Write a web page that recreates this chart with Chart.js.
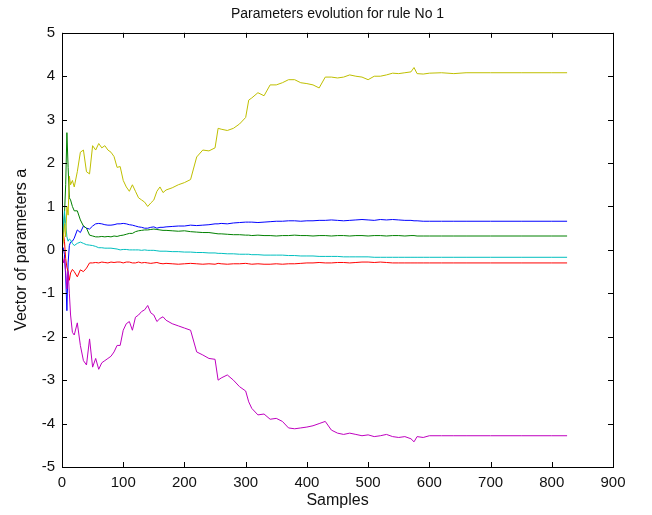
<!DOCTYPE html>
<html>
<head>
<meta charset="utf-8">
<script src="https://cdn.jsdelivr.net/npm/chart.js@4/dist/chart.umd.min.js"></script>
<style>
  html, body { margin: 0; padding: 0; background: #fff; }
  #wrap { width: 652px; height: 515px; }
</style>
</head>
<body>
<div id="wrap"><canvas id="param_chart_canvas" width="652" height="515"></canvas></div>
<script>
'use strict';

// sample index (x)
var samples = [
    0, 2, 4, 6, 8, 10, 12, 14, 17, 20,
    25, 30, 35, 40, 45, 50, 55, 60, 65, 70,
    75, 80, 85, 90, 95, 100, 105, 110, 115, 120,
    125, 130, 135, 140, 145, 150, 155, 160, 165, 170,
    180, 190, 200, 210, 220, 230, 240, 250, 255, 260,
    270, 280, 290, 300, 305, 310, 320, 330, 340, 350,
    360, 370, 380, 390, 400, 410, 420, 430, 440, 450,
    460, 470, 480, 490, 500, 510, 520, 530, 540, 550,
    560, 570, 575, 580, 590, 600, 620, 640, 660, 700,
    750, 800, 825
];

var param_blue = [
    0, 0.05, -0.1, -0.6, -1.4, -0.3, 0.1, 0.18, 0.2, 0.27,
    0.46, 0.4, 0.55, 0.5, 0.48, 0.55, 0.6, 0.61, 0.6, 0.58,
    0.57, 0.57, 0.58, 0.6, 0.6, 0.61, 0.6, 0.58, 0.57, 0.55,
    0.53, 0.52, 0.5, 0.5, 0.52, 0.53, 0.5, 0.52, 0.52, 0.53,
    0.54, 0.55, 0.55, 0.57, 0.56, 0.57, 0.58, 0.6, 0.6, 0.61,
    0.6, 0.62, 0.63, 0.64, 0.64, 0.64, 0.63, 0.64, 0.65, 0.66,
    0.66, 0.67, 0.67, 0.66, 0.67, 0.67, 0.68, 0.68, 0.69, 0.68,
    0.67, 0.68, 0.69, 0.7, 0.69, 0.68, 0.7, 0.69, 0.7, 0.69,
    0.68, 0.68, 0.67, 0.67, 0.66, 0.66, 0.66, 0.66, 0.66, 0.66,
    0.66, 0.66, 0.66
];

var param_green = [
    0, 0.3, 0.8, 1.5, 2.7, 1.9, 1.2, 1.15, 1.0, 0.9,
    0.9, 0.69, 0.55, 0.5, 0.34, 0.32, 0.3, 0.3, 0.31, 0.3,
    0.31, 0.3, 0.32, 0.31, 0.33, 0.34, 0.36, 0.38, 0.38, 0.42,
    0.44, 0.45, 0.46, 0.46, 0.47, 0.48, 0.47, 0.46, 0.45, 0.45,
    0.44, 0.43, 0.44, 0.42, 0.41, 0.4, 0.4, 0.38, 0.37, 0.37,
    0.36, 0.35, 0.35, 0.34, 0.34, 0.33, 0.34, 0.33, 0.33, 0.32,
    0.33, 0.33, 0.34, 0.33, 0.33, 0.32, 0.33, 0.33, 0.32, 0.33,
    0.33, 0.32, 0.33, 0.33, 0.32, 0.33, 0.33, 0.32, 0.33, 0.33,
    0.32, 0.33, 0.33, 0.32, 0.32, 0.32, 0.32, 0.32, 0.32, 0.32,
    0.32, 0.32, 0.32
];

var param_red = [
    0, 0.4, 0.2, -0.2, -0.4, -0.5, -0.7, -0.53, -0.45, -0.5,
    -0.62, -0.46, -0.5, -0.42, -0.3, -0.3, -0.29, -0.3, -0.28, -0.29,
    -0.3, -0.28, -0.29, -0.28, -0.28, -0.3, -0.28, -0.28, -0.3, -0.3,
    -0.28, -0.3, -0.29, -0.3, -0.31, -0.3, -0.29, -0.31, -0.32, -0.31,
    -0.32, -0.33, -0.32, -0.31, -0.32, -0.33, -0.32, -0.33, -0.31, -0.32,
    -0.33, -0.32, -0.32, -0.31, -0.32, -0.33, -0.32, -0.33, -0.33, -0.32,
    -0.33, -0.32, -0.32, -0.31, -0.3, -0.3, -0.29, -0.3, -0.3, -0.29,
    -0.29, -0.3, -0.29, -0.28, -0.28, -0.29, -0.28, -0.29, -0.3, -0.3,
    -0.3, -0.3, -0.3, -0.3, -0.3, -0.3, -0.3, -0.3, -0.3, -0.3,
    -0.3, -0.3, -0.3
];

var param_cyan = [
    0, 0.5, 0.9, 0.6, 0.3, 0.2, 0.25, 0.23, 0.15, 0.1,
    0.15, 0.18, 0.15, 0.12, 0.11, 0.1, 0.08, 0.05, 0.05, 0.04,
    0.04, 0.04, 0.03, 0.02, 0.0, 0.01, 0.01, 0.0, 0.0, 0.0,
    0.0, -0.01, 0.0, -0.01, -0.01, -0.01, -0.02, -0.03, -0.03, -0.03,
    -0.04, -0.04, -0.05, -0.05, -0.06, -0.06, -0.07, -0.07, -0.08, -0.08,
    -0.09, -0.09, -0.1, -0.1, -0.1, -0.11, -0.11, -0.12, -0.12, -0.12,
    -0.12, -0.13, -0.13, -0.14, -0.14, -0.14, -0.15, -0.15, -0.15, -0.15,
    -0.16, -0.16, -0.16, -0.16, -0.16, -0.17, -0.17, -0.17, -0.17, -0.17,
    -0.17, -0.17, -0.17, -0.17, -0.17, -0.17, -0.17, -0.17, -0.17, -0.17,
    -0.17, -0.17, -0.17
];

var param_magenta = [
    0, -0.3, -0.2, -0.5, -0.9, -0.5, -1.0, -1.5, -1.9, -1.96,
    -1.68, -2.2, -2.55, -2.65, -2.05, -2.7, -2.5, -2.75, -2.6, -2.55,
    -2.5, -2.45, -2.35, -2.2, -2.2, -1.85, -1.7, -1.65, -1.85, -1.55,
    -1.5, -1.42, -1.38, -1.28, -1.45, -1.5, -1.65, -1.58, -1.54, -1.62,
    -1.7, -1.75, -1.8, -1.85, -2.35, -2.42, -2.5, -2.52, -3.0, -2.95,
    -2.88, -3.0, -3.15, -3.25, -3.5, -3.65, -3.8, -3.78, -3.9, -3.88,
    -3.95, -4.1, -4.12, -4.1, -4.08, -4.05, -4.0, -3.95, -4.15, -4.22,
    -4.25, -4.22, -4.25, -4.28, -4.26, -4.3, -4.28, -4.25, -4.3, -4.32,
    -4.3, -4.35, -4.42, -4.3, -4.32, -4.28, -4.28, -4.28, -4.28, -4.28,
    -4.28, -4.28, -4.28
];

var param_yellow = [
    0, 0.2, 0.6, 0.3, 1.0, 0.8, 1.7, 1.5, 1.6, 1.45,
    1.8, 2.25, 2.3, 1.8, 1.75, 2.4, 2.3, 2.45, 2.35, 2.4,
    2.3, 2.25, 2.15, 1.9, 1.92, 1.6, 1.45, 1.35, 1.5, 1.35,
    1.2, 1.15, 1.1, 1.0, 1.08, 1.15, 1.35, 1.45, 1.32, 1.38,
    1.43, 1.5, 1.55, 1.62, 2.14, 2.3, 2.28, 2.35, 2.8, 2.78,
    2.75, 2.8, 2.9, 3.05, 3.45, 3.5, 3.62, 3.55, 3.8, 3.8,
    3.85, 3.92, 3.92, 3.85, 3.83, 3.8, 3.73, 3.98, 3.98, 3.96,
    3.98, 4.03, 4.0, 3.98, 3.92, 4.0, 4.0, 4.03, 4.07, 4.06,
    4.08, 4.1, 4.2, 4.06, 4.05, 4.07, 4.08, 4.06, 4.08, 4.08,
    4.08, 4.08, 4.08
];

var x_ticks = [0, 100, 200, 300, 400, 500, 600, 700, 800, 900];
var y_ticks = [-5, -4, -3, -2, -1, 0, 1, 2, 3, 4, 5];

var chart_title = 'Parameters evolution for rule No 1';
var x_label = 'Samples';
var y_label = 'Vector of parameters a';

function toPoints(values) {
    return samples.map(function (s, i) {
        return {x: s, y: values[i]};
    });
}

function series(values, color, order) {
    return {
        data: toPoints(values),
        borderColor: color,
        backgroundColor: color,
        borderWidth: 1,
        pointRadius: 0,
        tension: 0,
        fill: false,
        order: order,
    };
}

// matlab style box with inward ticks on all four sides
var matlabBox = {
    id: 'matlabBox',
    afterDatasetsDraw: function (chart) {
        var ctx = chart.ctx;
        var a = chart.chartArea;
        var xs = chart.scales.x;
        var ys = chart.scales.y;
        var len = 5;
        ctx.save();
        ctx.strokeStyle = '#000';
        ctx.lineWidth = 1;
        ctx.strokeRect(Math.round(a.left) + 0.5, Math.round(a.top) + 0.5,
            Math.round(a.right - a.left), Math.round(a.bottom - a.top));
        ctx.beginPath();
        x_ticks.forEach(function (t) {
            var px = Math.round(xs.getPixelForValue(t)) + 0.5;
            ctx.moveTo(px, a.bottom);
            ctx.lineTo(px, a.bottom - len);
            ctx.moveTo(px, a.top);
            ctx.lineTo(px, a.top + len);
        });
        y_ticks.forEach(function (t) {
            var py = Math.round(ys.getPixelForValue(t)) + 0.5;
            ctx.moveTo(a.left, py);
            ctx.lineTo(a.left + len, py);
            ctx.moveTo(a.right, py);
            ctx.lineTo(a.right - len, py);
        });
        ctx.stroke();
        ctx.restore();
    }
};

var tickFont = {family: 'Liberation Sans, Arial, sans-serif', size: 15};
var labelFont = {family: 'Liberation Sans, Arial, sans-serif', size: 16};

var ctx = document.getElementById('param_chart_canvas');
var myChart = new Chart(ctx, {
    type: 'line',
    data: {
        datasets: [
            series(param_blue, '#0000ff', 6),
            series(param_green, '#008000', 5),
            series(param_red, '#ff0000', 4),
            series(param_cyan, '#00bfbf', 3),
            series(param_magenta, '#bf00bf', 2),
            series(param_yellow, '#bfbf00', 1),
        ]
    },
    options: {
        responsive: false,
        animation: false,
        events: [],
        layout: {padding: {left: 0, right: 39, top: 0, bottom: 0}},
        plugins: {
            legend: {display: false},
            tooltip: {enabled: false},
            title: {
                display: true,
                text: chart_title,
                fullSize: false,
                color: '#111',
                font: {family: 'Liberation Sans, Arial, sans-serif', size: 14, weight: 'normal'},
                padding: {top: 6, bottom: 10},
            },
        },
        scales: {
            x: {
                type: 'linear',
                min: 0,
                max: 900,
                afterBuildTicks: function (scale) {
                    scale.ticks = x_ticks.map(function (v) { return {value: v}; });
                },
                afterFit: function (scale) { scale.height = 48; },
                grid: {display: false, drawTicks: false},
                border: {display: false},
                ticks: {color: '#111', font: tickFont, padding: 7, maxRotation: 0, autoSkip: false},
                title: {display: true, text: x_label, color: '#111', font: labelFont, padding: {top: 0, bottom: 5}},
            },
            y: {
                type: 'linear',
                min: -5,
                max: 5,
                afterBuildTicks: function (scale) {
                    scale.ticks = y_ticks.map(function (v) { return {value: v}; });
                },
                afterFit: function (scale) { scale.width = 62; },
                grid: {display: false, drawTicks: false},
                border: {display: false},
                ticks: {color: '#111', font: tickFont, padding: 7, autoSkip: false},
                title: {display: true, text: y_label, color: '#111', font: labelFont, padding: {top: 12, bottom: 0}},
            }
        }
    },
    plugins: [matlabBox]
});
</script>
</body>
</html>
